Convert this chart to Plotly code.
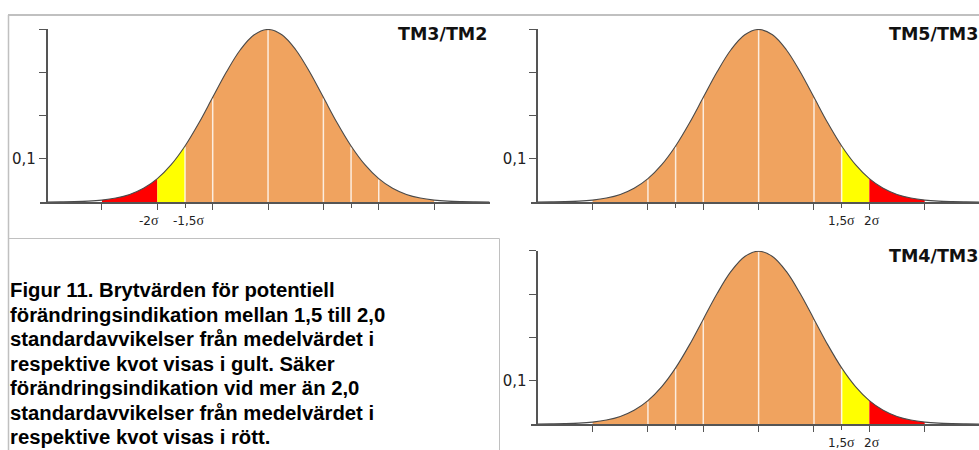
import plotly.graph_objects as go

W, H = 979, 450

# Positions along the distribution (in standard deviations) and the density
SIGMA = [-4.0, -3.75, -3.5, -3.25, -3.0, -2.75, -2.5, -2.25, -2.0, -1.75, -1.5, -1.25, -1.0,
         -0.75, -0.5, -0.25, 0.0, 0.25, 0.5, 0.75, 1.0, 1.25, 1.5, 1.75, 2.0, 2.25, 2.5,
         2.75, 3.0, 3.25, 3.5, 3.75, 4.0]
DENSITY = [0.0001, 0.0004, 0.0009, 0.0020, 0.0044, 0.0091, 0.0175, 0.0317, 0.0540, 0.0863,
           0.1295, 0.1826, 0.2420, 0.3011, 0.3521, 0.3867, 0.3989, 0.3867, 0.3521, 0.3011,
           0.2420, 0.1826, 0.1295, 0.0863, 0.0540, 0.0317, 0.0175, 0.0091, 0.0044, 0.0020,
           0.0009, 0.0004, 0.0001]

PANEL_TITLES = ["TM3/TM2", "TM5/TM3", "TM4/TM3"]

# coloured bands (from sigma, to sigma, colour name)
BANDS_LEFT = [(-3.0, -2.0, "red"), (-2.0, -1.5, "yellow"), (-1.5, 3.0, "orange")]
BANDS_RIGHT = [(-3.0, 1.5, "orange"), (1.5, 2.0, "yellow"), (2.0, 3.0, "red")]

# white separator lines inside the fill
WHITE_LEFT = [-1.5, -1.0, 0.0, 1.0, 1.5, 2.0]
WHITE_RIGHT = [-2.0, -1.5, -1.0, 0.0, 1.0, 1.5]

# sigma labels under the x axis
LABEL_POS_LEFT = [-2.0, -1.5]
LABEL_TXT_LEFT = ["-2", "-1,5"]
LABEL_POS_RIGHT = [1.5, 2.0]
LABEL_TXT_RIGHT = ["1,5", "2"]

Y_TICKS = [0.1, 0.2, 0.3, 0.4]
Y_TICKTEXT = ["0,1", "", "", ""]
X_TICKS = [-3, -2, -1, 0, 1, 2, 3]
X_MINOR = [-1.5, 1.5]

CAPTION_LINES = [
    "Figur 11. Brytvärden för potentiell",
    "förändringsindikation mellan 1,5 till 2,0",
    "standardavvikelser från medelvärdet i",
    "respektive kvot visas i gult. Säker",
    "förändringsindikation vid mer än 2,0",
    "standardavvikelser från medelvärdet i",
    "respektive kvot visas i rött.",
]

COLORS = {"red": "#FF0000", "yellow": "#FFFF00", "orange": "#F0A35F"}
CURVE = "#4a4a4a"
AXIS = "#555555"
FRAME = "#c0c0c0"

# ---------------- layout geometry (pixels) ----------------
PX_PER_SIGMA = 55.35
X0 = -4.12
PANELS = [
    dict(xl=40.0, xr=490.0, yt=29.0, yb=202.0),
    dict(xl=530.6, xr=979.0, yt=29.0, yb=202.0),
    dict(xl=530.6, xr=979.0, yt=250.7, yb=424.0),
]

fig = go.Figure()
layout = dict(
    width=W, height=H, margin=dict(l=0, r=0, t=0, b=0, pad=0),
    paper_bgcolor="white", plot_bgcolor="white", showlegend=False,
)

annotations = []
shapes = []

def px_x(p):
    return p / W

def px_y(p):
    return 1 - p / H

for i, pan in enumerate(PANELS):
    n = "" if i == 0 else str(i + 1)
    xa, ya = "x" + n, "y" + n
    bands = BANDS_LEFT if i == 0 else BANDS_RIGHT
    whites = WHITE_LEFT if i == 0 else WHITE_RIGHT
    lab_pos = LABEL_POS_LEFT if i == 0 else LABEL_POS_RIGHT
    lab_txt = LABEL_TXT_LEFT if i == 0 else LABEL_TXT_RIGHT

    for (a, b, c) in bands:
        xs = [s for s in SIGMA if a <= s <= b]
        ys = [DENSITY[SIGMA.index(s)] for s in xs]
        fig.add_trace(go.Scatter(x=xs, y=ys, mode="lines", fill="tozeroy",
                                 fillcolor=COLORS[c], line=dict(width=0, color=COLORS[c], shape="spline"),
                                 xaxis=xa, yaxis=ya, hoverinfo="skip"))
    for v in whites:
        fig.add_trace(go.Scatter(x=[v, v], y=[0, DENSITY[SIGMA.index(v)] - 0.002], mode="lines",
                                 line=dict(color="rgba(255,255,255,0.8)", width=1.5),
                                 xaxis=xa, yaxis=ya, hoverinfo="skip"))
    fig.add_trace(go.Scatter(x=SIGMA, y=DENSITY, mode="lines",
                             line=dict(color=CURVE, width=1.1, shape="spline"),
                             xaxis=xa, yaxis=ya, hoverinfo="skip"))

    x1 = X0 + (pan["xr"] - pan["xl"]) / PX_PER_SIGMA
    yaxis_x = pan["xl"] + (-4.0 - X0) * PX_PER_SIGMA
    layout["xaxis" + n] = dict(
        domain=[px_x(pan["xl"]), px_x(pan["xr"])], range=[X0, x1], anchor=ya,
        showline=True, linecolor=AXIS, linewidth=1.5, showgrid=False, zeroline=False,
        ticks="outside", ticklen=6, tickwidth=1.2, tickcolor=AXIS, tickvals=X_TICKS,
        showticklabels=False,
        minor=dict(tickvals=X_MINOR, ticks="outside", ticklen=4, tickwidth=1.2, tickcolor=AXIS, showgrid=False),
        fixedrange=True,
    )
    layout["yaxis" + n] = dict(
        domain=[px_y(pan["yb"]), px_y(pan["yt"])], range=[0, 0.4], anchor="free",
        position=px_x(yaxis_x),
        showline=True, linecolor=AXIS, linewidth=1.5, showgrid=False, zeroline=False,
        ticks="outside", ticklen=7, tickwidth=1.2, tickcolor=AXIS,
        tickvals=Y_TICKS, ticktext=Y_TICKTEXT,
        tickfont=dict(family="DejaVu Sans", size=15, color="#222222"),
        fixedrange=True,
    )

    # panel title
    annotations.append(dict(
        text="<b>" + PANEL_TITLES[i] + "</b>", xref="paper", yref="paper",
        x=px_x(489.0 + (pan["xl"] - 40.0)), y=px_y(pan["yt"] + 5.0),
        xanchor="right", yanchor="middle", showarrow=False,
        font=dict(family="DejaVu Sans", size=17.5, color="#111111"),
    ))

    shifts = [-8.5, 3.5] if i == 0 else [0.0, 2.5]
    for p, t, sh in zip(lab_pos, lab_txt, shifts):
        annotations.append(dict(
            text=t + "<span style='font-family:Liberation Serif;font-size:14px'>σ</span>",
            xref=xa, yref=ya, x=p, y=0, xanchor="center", yanchor="middle",
            xshift=sh, yshift=-18.5, showarrow=False,
            font=dict(family="DejaVu Sans", size=12, color="#222222"),
        ))

# caption
first, last = 290.0, 437.0
step = (last - first) / (len(CAPTION_LINES) - 1)
for k, line in enumerate(CAPTION_LINES):
    annotations.append(dict(
        text="<b>" + line + "</b>", xref="paper", yref="paper",
        x=px_x(8.0), y=px_y(first + k * step), xanchor="left", yanchor="middle",
        showarrow=False, font=dict(family="Liberation Sans, Arial", size=20.3, color="#000000"),
    ))

# frame lines
shapes.append(dict(type="line", xref="paper", yref="paper", x0=px_x(8), x1=1.0, y0=px_y(15), y1=px_y(15),
                   line=dict(color=FRAME, width=2)))
shapes.append(dict(type="line", xref="paper", yref="paper", x0=px_x(8.5), x1=px_x(8.5), y0=px_y(15), y1=0,
                   line=dict(color=FRAME, width=1.5)))
shapes.append(dict(type="line", xref="paper", yref="paper", x0=px_x(8), x1=px_x(499.5), y0=px_y(238.5), y1=px_y(238.5),
                   line=dict(color=FRAME, width=1)))
shapes.append(dict(type="line", xref="paper", yref="paper", x0=px_x(499.5), x1=px_x(499.5), y0=px_y(238.5), y1=0,
                   line=dict(color=FRAME, width=1)))

layout["annotations"] = annotations
layout["shapes"] = shapes
fig.update_layout(**layout)
fig.write_html("out.html", config={"displayModeBar": False},
               post_script="document.body.style.margin='0';document.body.style.overflow='hidden';")
